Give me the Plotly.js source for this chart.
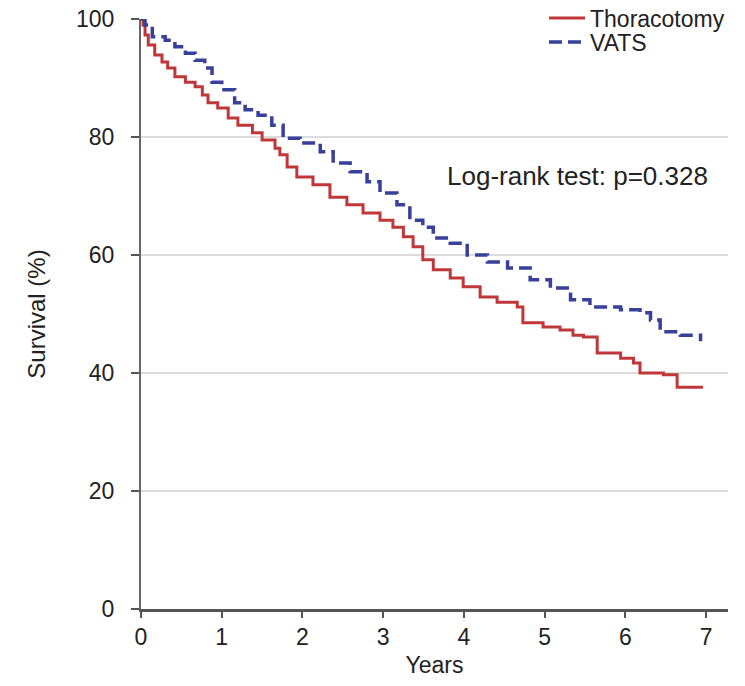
<!DOCTYPE html>
<html>
<head>
<meta charset="utf-8">
<script src="https://cdn.plot.ly/plotly-3.0.1.min.js"></script>
<style>html,body{margin:0;padding:0;background:#fff;}#chart{width:745px;height:686px;}</style>
</head>
<body>
<div id="chart"></div>
<script>
// Thoracotomy survival (years, %)
const thoracotomyYears = [0, 0.01, 0.025, 0.05, 0.09, 0.17, 0.26, 0.33, 0.42, 0.55, 0.67, 0.76, 0.83, 0.95, 1.08, 1.20, 1.38, 1.50, 1.66, 1.72, 1.81, 1.93, 2.13, 2.34, 2.55, 2.75, 2.96, 3.12, 3.25, 3.37, 3.49, 3.62, 3.83, 3.99, 4.20, 4.41, 4.66, 4.73, 4.98, 5.19, 5.35, 5.48, 5.65, 5.94, 6.10, 6.18, 6.47, 6.64, 6.96];
const thoracotomySurv  = [100, 100, 99, 97.3, 95.6, 93.9, 92.7, 91.7, 90.2, 89.3, 88.5, 87.1, 85.8, 84.9, 83.2, 82.0, 80.7, 79.5, 78.1, 77.0, 74.9, 73.2, 71.9, 69.8, 68.5, 67.1, 65.9, 64.7, 63.1, 61.4, 59.2, 57.5, 56.1, 54.6, 52.9, 52.0, 51.2, 48.5, 47.8, 47.3, 46.4, 46.1, 43.4, 42.5, 41.7, 40.0, 39.7, 37.6, 37.6];
// VATS survival (years, %)
const vatsYears = [0, 0.05, 0.14, 0.30, 0.42, 0.55, 0.67, 0.79, 0.88, 1.00, 1.16, 1.29, 1.45, 1.62, 1.76, 1.97, 2.22, 2.38, 2.59, 2.80, 2.96, 3.17, 3.33, 3.49, 3.62, 3.83, 4.04, 4.29, 4.54, 4.82, 5.07, 5.32, 5.56, 5.94, 6.18, 6.31, 6.43, 6.68, 6.93];
const vatsSurv  = [100, 99, 97, 96.4, 95.3, 94.2, 93.0, 91.7, 89.3, 88.0, 85.8, 84.6, 83.7, 82.0, 79.8, 79.0, 77.5, 75.6, 74.1, 72.4, 70.5, 68.5, 65.9, 64.7, 62.9, 62.0, 60.0, 58.8, 57.8, 55.8, 54.4, 52.4, 51.2, 50.7, 50.2, 49.0, 47.0, 46.4, 45.4];
const xTicks = [0, 1, 2, 3, 4, 5, 6, 7];
const yTicks = [0, 20, 40, 60, 80, 100];
const seriesNames = ["Thoracotomy", "VATS"];
const annotationText = "Log-rank test: p=0.328";

const FONT = "Liberation Sans, Arial, sans-serif";
const traces = [
  {x: thoracotomyYears, y: thoracotomySurv, name: seriesNames[0], type: "scatter", mode: "lines",
   legend: "legend", line: {color: "#c0373a", width: 3, shape: "hv"}},
  {x: vatsYears, y: vatsSurv, name: seriesNames[1], type: "scatter", mode: "lines",
   legend: "legend2", line: {color: "#38409c", width: 3.5, shape: "hv", dash: "13px,6px"}}
];
const legendFont = {family: FONT, size: 23, color: "#222"};
const legendLeftPaper = (544 - 141) / 587;
const layout = {
  width: 745, height: 686,
  margin: {l: 141, r: 17, t: 19, b: 77, autoexpand: false},
  paper_bgcolor: "#fff", plot_bgcolor: "#fff",
  font: {family: FONT, size: 22, color: "#222"},
  showlegend: true,
  legend: {x: legendLeftPaper, xanchor: "left", y: 1.038, yanchor: "top", bgcolor: "#fff",
           font: legendFont, itemwidth: 36},
  legend2: {x: legendLeftPaper, xanchor: "left", y: 0.9975, yanchor: "top", bgcolor: "rgba(0,0,0,0)",
           font: legendFont, itemwidth: 36},
  xaxis: {range: [0, 7.27], tickvals: xTicks, ticks: "outside", ticklen: 6, tickwidth: 2, tickcolor: "#555",
          showline: true, linecolor: "#555", linewidth: 2.5, showgrid: false, zeroline: false,
          title: {text: "Years", font: {family: FONT, size: 23, color: "#222"}, standoff: 8},
          tickfont: {family: FONT, size: 23, color: "#222"}},
  yaxis: {range: [0, 100], tickvals: yTicks, ticks: "outside", ticklen: 8, tickwidth: 1.5, tickcolor: "#555",
          showline: true, linecolor: "#666", linewidth: 2, showgrid: true, gridcolor: "#dcdcdc", gridwidth: 2,
          zeroline: false, ticklabelstandoff: 12,
          title: {text: "Survival (%)", font: {family: FONT, size: 24, color: "#222"}, standoff: 24},
          tickfont: {family: FONT, size: 23, color: "#222"}},
  annotations: [{x: 5.40, y: 73.4, xref: "x", yref: "y", text: annotationText, showarrow: false,
                 font: {family: FONT, size: 26, color: "#222"}}]
};
Plotly.newPlot("chart", traces, layout, {displayModeBar: false, staticPlot: true});
</script>
</body>
</html>
